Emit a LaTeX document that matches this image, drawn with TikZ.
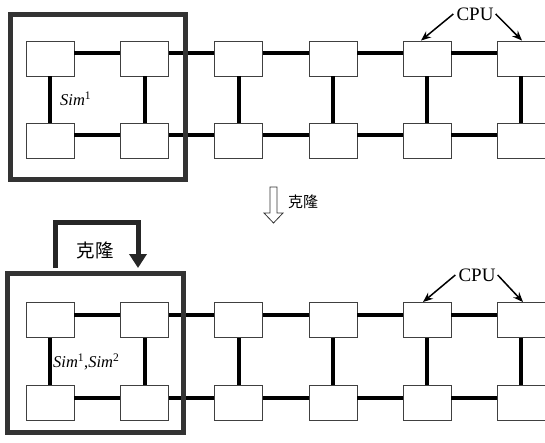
\documentclass[tikz,border=0pt]{standalone}
\usepackage{fontspec}
\setmainfont{Liberation Serif}
\newfontfamily\cjk{Noto Sans CJK SC}
\usetikzlibrary{arrows.meta}
\begin{document}
\begin{tikzpicture}[x=1pt,y=-1pt,
 cpubox/.style={draw=black!75, line width=0.9pt, fill=white, minimum width=48pt, minimum height=35pt, inner sep=0pt},
 link/.style={line width=4pt, draw=black},
 frame/.style={draw=black!80, line width=5pt, inner sep=0pt},
 pointer/.style={line width=1.5pt, -{Stealth[length=10pt,width=8pt]}},
 loopline/.style={line width=5pt, draw=black!85, line join=miter, -{Triangle[length=14pt,width=17pt]}},
 lbl/.style={font=\fontsize{19}{19}\selectfont, inner sep=0pt},
 simlbl/.style={font=\fontsize{16.5}{16.5}\selectfont, inner sep=0pt, anchor=west},
 cjklbl/.style={font=\cjk\fontsize{15}{15}\selectfont, inner sep=0pt}]
\useasboundingbox (0,0) rectangle (545,443);
% CPU boxes
\foreach \i/\x in {1/50,2/144.5,3/238.5,4/333,5/427,6/521} {
  \node[cpubox] (a\i) at (\x,58.5) {};
  \node[cpubox] (b\i) at (\x,141) {};
  \node[cpubox] (c\i) at (\x,320) {};
  \node[cpubox] (d\i) at (\x,403) {};
}
% horizontal links
\foreach \i/\j in {1/2,2/3,3/4,4/5,5/6} {
  \foreach \r in {a,b,c,d} {
    \draw[link] ([yshift=5.5pt]\r\i.east) -- ([yshift=5.5pt]\r\j.west);
  }
}
% vertical links
\foreach \i in {1,...,6} {
  \draw[link] (a\i.south) -- (b\i.north);
  \draw[link] (c\i.south) -- (d\i.north);
}
% frames
\node[frame, minimum width=175pt, minimum height=165pt] (f1) at (97.5,97.5) {};
\node[frame, minimum width=176pt, minimum height=159pt] (f2) at (95,352.5) {};
% labels
\node[simlbl] (s1) at (60,99) {\textit{Sim}\textsuperscript{1}};
\node[simlbl] (s2) at (53,362) {\textit{Sim}\textsuperscript{1},\textit{Sim}\textsuperscript{2}};
% CPU pointers
\node[lbl] (cpu1) at (475,14) {CPU};
\draw[pointer] ([xshift=-3pt]cpu1.west) -- ([xshift=-6pt]a5.north);
\draw[pointer] ([xshift=2pt]cpu1.east) -- ([xshift=1pt]a6.north);
\node[lbl] (cpu2) at (477,275) {CPU};
\draw[pointer] ([xshift=-3pt]cpu2.west) -- ([xshift=-4pt]c5.north);
\draw[pointer] ([xshift=2pt]cpu2.east) -- ([xshift=2pt]c6.north);
% middle hollow arrow
\draw[line width=0.8pt, draw=black!80, fill=white] (270,187) -- (277,187) -- (277,213) -- (283,213) -- (273.5,223) -- (264,213) -- (270,213) -- cycle;
\node[cjklbl, anchor=west] (clone1) at (288,202) {克隆};
% clone loop
\coordinate (ls) at ([xshift=-40pt,yshift=2.5pt]f2.north);
\coordinate (le) at ([xshift=43pt,yshift=2.5pt]f2.north);
\draw[loopline] (ls) -- ++(0,-45) -| (le);
\node[cjklbl, font=\cjk\fontsize{18.5}{18.5}\selectfont] (clone2) at (95,250) {克隆};
\end{tikzpicture}
\end{document}
